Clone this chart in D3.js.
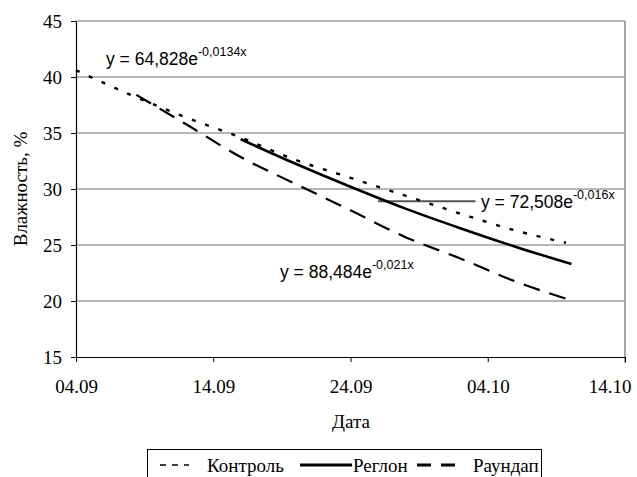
<!DOCTYPE html>
<html>
<head>
<meta charset="utf-8">
<script src="https://cdn.jsdelivr.net/npm/d3@7"></script>
<style>
  html, body { margin: 0; padding: 0; background: #fff; }
  svg { display: block; }
  .serif { font-family: 'Liberation Serif', 'Times New Roman', serif; }
  .sans { font-family: 'Liberation Sans', Arial, sans-serif; }
</style>
</head>
<body>
<svg id="chart" width="637" height="477"></svg>
<script>
// days counted from 04.09
const dateTicks = [0, 10, 20, 30, 40];
const dateLabels = ['04.09', '14.09', '24.09', '04.10', '14.10'];
const valueTicks = [15, 20, 25, 30, 35, 40, 45];

const controlDays = [0, 4, 8, 12, 16, 20, 24, 28, 32, 35.7];
const controlValues = [40.6, 38.4, 36.4, 34.6, 32.6, 31.0, 29.4, 27.8, 26.3, 25.2];

const reglonDays = [12, 16, 20, 24, 28, 32, 36.1];
const reglonValues = [34.45, 32.25, 30.2, 28.25, 26.5, 24.85, 23.3];

const roundupDays = [4.4, 8, 12, 16, 20, 24, 28, 32, 35.7];
const roundupValues = [38.4, 35.8, 32.85, 30.45, 28.1, 25.7, 23.8, 21.75, 20.2];

const markerDays = [22, 29.1];
const markerValue = 28.9;

const seriesNames = ['Контроль', 'Реглон', 'Раундап'];

const svg = d3.select('#chart');
const plotLeft = 76, plotRight = 625, plotTop = 21, plotBottom = 357;

const x = d3.scaleLinear().domain([0, 40]).range([plotLeft, plotRight]);
const y = d3.scaleLinear().domain([15, 45]).range([plotBottom, plotTop]);

// gridlines
svg.append('g')
  .selectAll('line')
  .data(valueTicks.filter((v) => v > 15))
  .join('line')
  .attr('x1', plotLeft)
  .attr('x2', plotRight)
  .attr('y1', (d) => y(d))
  .attr('y2', (d) => y(d))
  .attr('stroke', '#6e6e6e')
  .attr('stroke-width', 1);

// right border
svg.append('line')
  .attr('x1', plotRight).attr('x2', plotRight)
  .attr('y1', plotTop).attr('y2', plotBottom + 6)
  .attr('stroke', '#a6a6a6')
  .attr('stroke-width', 2);

// y axis
const yAxis = svg.append('g')
  .attr('transform', `translate(${plotLeft},0)`)
  .call(d3.axisLeft(y).tickValues(valueTicks).tickSize(5).tickPadding(9).tickSizeOuter(0));
yAxis.attr('font-family', null).attr('font-size', null);
yAxis.select('.domain').attr('stroke', '#000').attr('stroke-width', 1.2);
yAxis.selectAll('.tick line').attr('stroke', '#000');
yAxis.selectAll('text')
  .attr('class', 'serif')
  .style('font-size', '19px')
  .attr('fill', '#000');

// x axis
const xAxis = svg.append('g')
  .attr('transform', `translate(0,${plotBottom})`)
  .call(
    d3.axisBottom(x)
      .tickValues(dateTicks)
      .tickFormat((d, i) => dateLabels[i])
      .tickSize(5)
      .tickPadding(18)
      .tickSizeOuter(0),
  );
xAxis.attr('font-family', null).attr('font-size', null);
xAxis.select('.domain').attr('stroke', '#000').attr('stroke-width', 1.2);
xAxis.selectAll('.tick line').attr('stroke', '#000');
xAxis.selectAll('text')
  .attr('class', 'serif')
  .style('font-size', '19px')
  .attr('fill', '#000')
  .attr('text-anchor', (d, i) => (i === dateTicks.length - 1 ? 'end' : 'middle'))
  .attr('dx', (d, i) => (i === dateTicks.length - 1 ? 6 : 0));

// axis titles
svg.append('text')
  .attr('class', 'serif')
  .attr('transform', `translate(27,${(plotTop + plotBottom) / 2}) rotate(-90)`)
  .attr('text-anchor', 'middle')
  .style('font-size', '19px')
  .text('Влажность, %');

svg.append('text')
  .attr('class', 'serif')
  .attr('x', 351)
  .attr('y', 428)
  .attr('text-anchor', 'middle')
  .style('font-size', '19px')
  .text('Дата');

// series
const line = d3.line()
  .x((d) => x(d[0]))
  .y((d) => y(d[1]))
  .curve(d3.curveMonotoneX);

const series = [
  { days: controlDays, values: controlValues, width: 2.4, dash: '4,10' },
  { days: reglonDays, values: reglonValues, width: 2.6, dash: null },
  { days: roundupDays, values: roundupValues, width: 2.2, dash: '17,10' },
];

// marker line by the Реглон equation
svg.append('line')
  .attr('x1', x(markerDays[0]))
  .attr('x2', x(markerDays[1]))
  .attr('y1', y(markerValue))
  .attr('y2', y(markerValue))
  .attr('stroke', '#555')
  .attr('stroke-width', 2);

svg.append('g')
  .selectAll('path')
  .data(series)
  .join('path')
  .attr('d', (s) => line(s.days.map((d, i) => [d, s.values[i]])))
  .attr('fill', 'none')
  .attr('stroke', '#000')
  .attr('stroke-width', (s) => s.width)
  .attr('stroke-dasharray', (s) => s.dash);

// trend equations
const equations = [
  { base: 'y = 64,828e', exp: '-0,0134x', x: 106, y: 65 },
  { base: 'y = 72,508e', exp: '-0,016x', x: 481, y: 208 },
  { base: 'y = 88,484e', exp: '-0,021x', x: 280, y: 278 },
];

equations.forEach((eq) => {
  const t = svg.append('text')
    .attr('class', 'sans')
    .attr('x', eq.x)
    .attr('y', eq.y)
    .style('font-size', '17.5px')
    .attr('fill', '#000');
  t.append('tspan').text(eq.base);
  t.append('tspan').attr('dy', -9).style('font-size', '12.5px').text(eq.exp);
});

// legend
const legend = svg.append('g');
legend.append('rect')
  .attr('x', 147.5)
  .attr('y', 449.5)
  .attr('width', 394)
  .attr('height', 40)
  .attr('fill', '#fff')
  .attr('stroke', '#000')
  .attr('stroke-width', 1);

const legendItems = [
  { name: seriesNames[0], x1: 160, x2: 189, tx: 207, width: 1.4, dash: '6,6' },
  { name: seriesNames[1], x1: 300, x2: 352, tx: 353, width: 3, dash: null },
  { name: seriesNames[2], x1: 417, x2: 462, tx: 473, width: 3, dash: '14,10' },
];

legend.selectAll('line')
  .data(legendItems)
  .join('line')
  .attr('x1', (d) => d.x1)
  .attr('x2', (d) => d.x2)
  .attr('y1', 465)
  .attr('y2', 465)
  .attr('stroke', '#000')
  .attr('stroke-width', (d) => d.width)
  .attr('stroke-dasharray', (d) => d.dash);

legend.selectAll('text')
  .data(legendItems)
  .join('text')
  .attr('class', 'serif')
  .attr('x', (d) => d.tx)
  .attr('y', 472)
  .style('font-size', '19px')
  .text((d) => d.name);
</script>
</body>
</html>
